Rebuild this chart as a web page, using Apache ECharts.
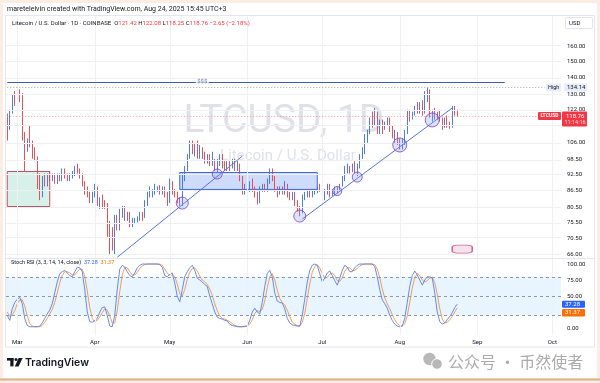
<!DOCTYPE html>
<html><head><meta charset="utf-8">
<script src="https://cdn.jsdelivr.net/npm/echarts@6/dist/echarts.min.js"></script>
<style>html,body{margin:0;padding:0;background:#fff;}#c{width:600px;height:383px;}</style>
</head><body><div id="c"></div>
<script>
// ---------- data ----------
const startDate = [2025, 1, 25];   // Feb 25 2025 (month 0-based)
const dayCount = 222;              // through Oct 4 2025
const monthNames = ['Jan','Feb','Mar','Apr','May','Jun','Jul','Aug','Sep','Oct','Nov','Dec'];

const opens = [119,113,121,128,126,130,129,108,104,106,
105,103,99,88,86,91,89,92,91,92,
90,92,91,94,92,91,92,93,95,94,
92,89,86,85,83,85,86,82,83,82,
81,72,71,68,77,74,79,80,77,78,
75,76,76.5,77,78,77,82,85,86,86.5,
87,87.5,86,87,85,83,89,86,85,83,
82,92,95,100,105,103,104,100,103,100,
98,100,97,98,95,98,99,97,95,97,
96,98,95,96,91,86,88,87,89,87,
85,83,87,88,87,90,94,91,87,86,
87,86,88,85,84,85,82,80,79,84,
85.5,86,85,86,86.5,87.5,87,85,86,88,
85,86,87,86.5,88.5,91,95,95.5,94.5,96,
94,96,100,103,108,111,117,116,120,112,
115,113,115,117,112,109,110,106,105,106,
111,121,118,120,123,121,125,121,130,132,
119,120,119,120,117,114,117,115,114,123,
121.42];
const highs = [120,122,130,132,131,133,131,111,108,114,
107,104,100,93,92,93,93,94,93,93,
93,93,95,95,93,93,94,96,97,95,
93,90,88,86,86,89,88,84,85,83,
82,76,74,78,78,80,81,81,79,79,
77,77,77.5,79,79,83,86,88,87,89,
88,88.5,88,88,86,91,90,87,86,84,
93,96,101,107,107,106,107,105,104,102,
101,101,102,99,99,101,101,98,98,98,
99,99,98,97,92,89,90,90,91,88,
86,88,89,89,91,95,95,92,88,88,
88,90,89,86,86,86,83,81,85,86,
87,87,86.5,87,88,89,88,87,89,89,
87,88,88,89,92,96,97,96,97,98,
97,101,104,110,112,118,121,123,121,117,
117,116,118,118,114,112,111,108,108,112,
122,122,121,124,126,126,127,132,134.14,133,
122,123,121,122,118,118,119,116,124,124,
122.08];
const lows = [107,112,120,124,124,126,107,94,102,104,
99,98,87,83,84,88,88,90,90,89,
89,90,90,91,90,90,91,92,93,91,
88,85,84,82,82,84,81,80,80,80,
71,66,67,66,73,73,77,76,76,74,
74,75,75.5,76,76,77,81,84,84,85,
86,85,85,84,81,82,85,84,82,81,
81,90,94,99,101,100,99,99,99,97,
97,96,96,94,93.5,96,95,94,94,94,
95,94,94,90,85,85,86,86,86,84,
81.5,82,86,86,86,89,90,86,84,85,
85,85,84,83,83,81,79,77.5,78.5,83,
84,84,84,85,85.5,86,84,83,85,84,
84.5,85,85.5,86,88,90,93,93,93.5,93,
92,95,99,101,106,110,113,114,110,110,
110,112,114,111,108,106,105,103,103,105,
110,116,117,119,120,120,119,120,126,118,
116,117,117,116,112,113,113,112.5,113,119,
118.25];
const closes = [113,121,128,126,130,129,108,104,106,105,
103,99,88,86,91,89,92,91,92,90,
92,91,94,92,91,92,93,95,94,92,
89,86,85,83,85,86,82,83,82,81,
72,71,68,77,74,79,80,77,78,75,
76,76.5,77,78,77,82,85,86,86.5,87,
87.5,86,87,85,83,89,86,85,83,82,
92,95,100,105,103,104,100,103,100,98,
100,97,98,95,98,99,97,95,97,96,
98,95,96,91,86,88,87,89,87,85,
83,87,88,87,90,94,91,87,86,87,
86,88,85,84,85,82,80,79,84,85.5,
86,85,86,86.5,87.5,87,85,86,88,85,
86,87,86.5,88.5,91,95,95.5,94.5,96,94,
96,100,103,108,111,117,116,120,112,115,
113,115,117,112,109,110,106,105,106,111,
121,118,120,123,121,125,121,130,132,119,
120,119,120,117,114,117,115,114,123,121.42,
118.76];
const stochK = [20,12,30,40,45,48,38,15,4,2,
2,2,2,3,8,15,22,28,38,55,
72,85,88,90,86,82,80,88,95,94,
88,60,25,10,9,12,15,25,32,33,
20,3,2,20,60,92,98,95,88,82,
80,86,94,98,100,100,100,100,100,100,
100,99,95,82,80,84,86,70,50,41,
60,80,88,94,98,90,78,75,72,68,
65,50,38,25,17,15,14,12,11,6,
4,3,2,2,2,3,3,12,25,31,
25,22,40,65,85,90,80,55,42,40,
39,30,15,8,5,4,3,3,20,45,
72,90,98,100,98,85,72,78,86,89,
82,74,67,78,90,98,95,88,88,94,
98,100,100,100,100,100,100,96,80,60,
44,38,31,20,12,6,3,2,3,15,
40,65,82,89,83,75,67,75,80,80,
78,55,25,10,6,8,13,18,24,32,
37.28];
const stochD = [25,18,21,27,38,44,44,34,19,7,
3,2,2,2,4,9,15,22,29,40,
55,71,82,88,88,86,83,83,88,92,
92,81,58,32,15,10,12,17,24,30,
28,19,8,8,27,57,83,95,94,88,
83,83,87,93,97,99,100,100,100,100,
100,100,98,92,86,82,83,80,69,54,
50,60,76,87,93,94,89,81,75,72,
68,61,51,38,27,19,15,14,12,10,
7,4,3,2,2,2,3,6,13,23,
27,26,29,42,63,80,85,75,59,46,
40,36,28,18,9,6,4,3,9,23,
46,69,87,96,99,94,85,78,79,84,
86,82,74,73,78,89,94,94,90,90,
93,97,99,100,100,100,100,99,92,79,
61,47,38,30,21,13,7,4,3,7,
19,40,62,79,85,82,75,72,74,78,
79,71,53,30,14,8,9,13,18,25,
31.37];

const priceLabelTicks = [160,150,140,130,122,106,98.5,92.5,86.5,80.5,75.5,70.5,66];
const priceGridTicks = [160,150,140,130,122,114,106,98.5,92.5,86.5,80.5,75.5,70.5,66];
const rsiLabelTicks = [0,50,75,100];
const rsiBands = [20,50,80];

const levelDollar = 137.3;
const levelHigh = 134.14;
const lastPrice = 118.76;
const lastK = 37.28, lastD = 31.37;
const trendLine1 = [[44, 65.1], [94, 100.1]];    // [day index, price]
const trendLine2 = [[118, 76.6], [178, 122.9]];
const boxTeal = [[0, 93.8], [17, 80.8]];
const boxBlue = [[69, 93.4], [124, 86.9]];
const touchDays = [70, 84, 117, 132, 140, 157, 170];
const touchPrices = [82.0, 92.8, 77.6, 86.3, 91.6, 105, 116.8];
const dollarLabelDay = 78, dollarLineEndDay = 199;
const eventDay = 182, eventPrice = 67.4;

// ---------- build ----------
const dates = [];
const t0 = Date.UTC(startDate[0], startDate[1], startDate[2]);
for (let i = 0; i < dayCount; i++) dates.push(new Date(t0 + i * 86400000).toISOString().slice(0, 10));
const monthStarts = dates.filter(s => s.endsWith('-01'));
const L = Math.log;
const candles = opens.map((o, i) => [L(o), L(closes[i]), L(lows[i]), L(highs[i])]);

const UP = '#3a6ce6', DOWN = '#e04046';
const FONT = 'Roboto';
const circleSizes = [12, 10, 12, 9, 10, 14, 14];

const chart = echarts.init(document.getElementById('c'), null, {width: 600, height: 383});
const gridLineStyle = {color: '#eef0f4', width: 1, type: 'solid'};

const option = {
  animation: false,
  backgroundColor: '#fbede3',
  grid: [
    {left: 6, right: 39, top: 15, height: 243},
    {left: 6, right: 39, top: 258, height: 77}
  ],
  xAxis: [
    {type: 'category', gridIndex: 0, data: dates, boundaryGap: true,
     axisLine: {show: false}, axisTick: {show: false}, axisLabel: {show: false}, splitLine: {show: false}},
    {type: 'category', gridIndex: 1, data: dates, boundaryGap: true,
     axisLine: {show: false}, axisTick: {show: false}, splitLine: {show: false},
     axisLabel: {show: true, interval: (i, v) => v.endsWith('-01'),
       formatter: v => v.endsWith('-01') ? monthNames[+v.slice(5, 7) - 1] : '',
       fontSize: 6, color: '#131722', margin: 4, fontFamily: FONT}}
  ],
  yAxis: [
    {type: 'value', gridIndex: 0, position: 'right', min: L(64.9), max: L(182.6),
     axisLine: {show: false}, axisTick: {show: false}, splitLine: {show: false},
     axisLabel: {customValues: priceLabelTicks.map(L), formatter: v => Math.exp(v).toFixed(2),
       fontSize: 6, color: '#131722', margin: 6, fontFamily: FONT}},
    {type: 'value', gridIndex: 1, position: 'right', min: -10.9, max: 109.4,
     axisLine: {show: false}, axisTick: {show: false}, splitLine: {show: false},
     axisLabel: {customValues: rsiLabelTicks, formatter: v => v.toFixed(2),
       fontSize: 6, color: '#131722', margin: 6, fontFamily: FONT}}
  ],
  series: [
    {type: 'line', xAxisIndex: 0, yAxisIndex: 0, data: [], z: 1, silent: true,
     markLine: {silent: true, symbol: ['none', 'none'], label: {show: false}, lineStyle: gridLineStyle,
       data: monthStarts.map(d => ({xAxis: d})).concat(priceGridTicks.map(v => ({yAxis: L(v)})))}},
    {type: 'candlestick', xAxisIndex: 0, yAxisIndex: 0, data: candles, barWidth: 1.3, z: 3,
     itemStyle: {color: UP, color0: DOWN, borderColor: UP, borderColor0: DOWN, borderWidth: 0.9},
     markArea: {silent: true, data: [
       [{xAxis: dates[boxTeal[0][0]], yAxis: L(boxTeal[0][1]),
         itemStyle: {color: 'rgba(60,180,150,0.2)', borderColor: '#c0505e', borderWidth: 1}},
        {xAxis: dates[boxTeal[1][0]], yAxis: L(boxTeal[1][1])}],
       [{xAxis: dates[boxBlue[0][0]], yAxis: L(boxBlue[0][1]),
         itemStyle: {color: 'rgba(60,110,240,0.25)', borderColor: '#3f66d6', borderWidth: 1}},
        {xAxis: dates[boxBlue[1][0]], yAxis: L(boxBlue[1][1])}]
     ]},
     markLine: {silent: true, symbol: ['none', 'none'], label: {show: false}, data: [
       [{coord: [dates[trendLine1[0][0]], L(trendLine1[0][1])], lineStyle: {color: '#5775cf', width: 1, type: 'solid'}},
        {coord: [dates[trendLine1[1][0]], L(trendLine1[1][1])]}],
       [{coord: [dates[trendLine2[0][0]], L(trendLine2[0][1])], lineStyle: {color: '#5775cf', width: 1, type: 'solid'}},
        {coord: [dates[trendLine2[1][0]], L(trendLine2[1][1])]}],
       [{coord: [dates[0], L(levelDollar)], lineStyle: {color: '#3f5ea6', width: 1, type: 'solid'}},
        {coord: [dates[dollarLineEndDay], L(levelDollar)]}],
       [{coord: [dates[0], L(levelHigh)], lineStyle: {color: '#a5a8b0', width: 1, type: [1, 2]}},
        {coord: [dates[215], L(levelHigh)]}],
       [{coord: [dates[0], L(lastPrice)], lineStyle: {color: '#f29aa2', width: 1, type: [1, 2]}},
        {coord: [dates[213], L(lastPrice)]}]
     ]}},
    {type: 'scatter', xAxisIndex: 0, yAxisIndex: 0, z: 5, silent: true,
     data: touchDays.map((d, i) => [dates[d], L(touchPrices[i])]),
     symbolSize: (v, p) => circleSizes[p.dataIndex],
     itemStyle: {color: 'rgba(120,160,255,0.35)', borderColor: '#8a3cb4', borderWidth: 1}},
    {type: 'scatter', xAxisIndex: 0, yAxisIndex: 0, z: 6, silent: true,
     data: [[dates[dollarLabelDay], L(levelDollar)]], symbol: 'rect', symbolSize: [13, 6],
     itemStyle: {color: '#ffffff'},
     label: {show: true, position: 'inside', formatter: '$$$', color: '#3f5ea6', fontSize: 6, fontFamily: FONT}},
    {type: 'scatter', xAxisIndex: 0, yAxisIndex: 0, z: 6, silent: true,
     data: [[dates[eventDay], L(eventPrice)]], symbol: 'roundRect', symbolSize: [20, 8],
     itemStyle: {color: '#f1dbe8', borderColor: '#c8407a', borderWidth: 1}},
    {type: 'line', xAxisIndex: 1, yAxisIndex: 1, data: [], z: 1, silent: true,
     markLine: {silent: true, symbol: ['none', 'none'], label: {show: false}, lineStyle: gridLineStyle,
       data: monthStarts.map(d => ({xAxis: d}))}},
    {type: 'line', xAxisIndex: 1, yAxisIndex: 1, data: stochK, showSymbol: false, z: 4,
     lineStyle: {color: '#4f7ff0', width: 0.9}, silent: true,
     markArea: {silent: true, itemStyle: {color: 'rgba(33,150,243,0.1)'},
       data: [[{yAxis: rsiBands[0]}, {yAxis: rsiBands[2]}]]},
     markLine: {silent: true, symbol: ['none', 'none'], label: {show: false},
       lineStyle: {color: '#9598a1', width: 1, type: [3, 3]},
       data: rsiBands.map(v => ({yAxis: v}))}},
    {type: 'line', xAxisIndex: 1, yAxisIndex: 1, data: stochD, showSymbol: false, z: 3,
     lineStyle: {color: '#f5913e', width: 0.9}, silent: true}
  ]
};
chart.setOption(option);

const py = v => chart.convertToPixel({yAxisIndex: 0}, L(v));
const ry = v => chart.convertToPixel({yAxisIndex: 1}, v);
const yH = py(levelHigh), yP = py(lastPrice), yK = ry(lastK);

function tag(x, y, w, h, fill, text, color, font) {
  return [
    {type: 'rect', shape: {x: x, y: y - h / 2, width: w, height: h, r: 1}, style: {fill: fill}, z: 50},
    {type: 'text', x: x + 3, y: y, style: {text: text, fill: color, font: font || ('6px ' + FONT), verticalAlign: 'middle'}, z: 51}
  ];
}

const g = [
  {type: 'rect', shape: {x: 3, y: 3, width: 594, height: 375}, style: {fill: '#ffffff'}, z: -5},
  {type: 'line', shape: {x1: 0, y1: 379.5, x2: 600, y2: 379.5}, style: {stroke: '#d8b48c', lineWidth: 2}, z: -4},
  {type: 'rect', shape: {x: 5.5, y: 15.5, width: 589, height: 331.5}, style: {fill: null, stroke: '#e3e6ec', lineWidth: 1}, z: 40},
  {type: 'line', shape: {x1: 6, y1: 258.5, x2: 595, y2: 258.5}, style: {stroke: '#e3e6ec', lineWidth: 1}, z: 40},
  // watermark
  {type: 'text', x: 284, y: 122, style: {text: 'LTCUSD, 1D', fill: '#dfe1e6', font: '39px ' + FONT, align: 'center', verticalAlign: 'middle'}, z: 0},
  {type: 'text', x: 288, y: 156, style: {text: 'Litecoin / U.S. Dollar', fill: '#dfe1e6', font: '15px ' + FONT, align: 'center', verticalAlign: 'middle'}, z: 0},
  // header
  {type: 'text', x: 7, y: 9, style: {text: 'maretelelvin created with TradingView.com, Aug 24, 2025 15:45 UTC+3', fill: '#131722', font: '7px ' + FONT, verticalAlign: 'middle'}, z: 50},
  {type: 'text', x: 12, y: 23, style: {
    text: '{k|Litecoin / U.S. Dollar · 1D · COINBASE}  {k|O}{r|121.42} {k|H}{r|122.08} {k|L}{r|118.25} {k|C}{r|118.76} {r|−2.65 (−2.18%)}',
    font: '6px ' + FONT, verticalAlign: 'middle',
    rich: {k: {fill: '#131722', font: '6px ' + FONT}, r: {fill: '#f23645', font: '6px ' + FONT}}}, z: 50},
  {type: 'rect', shape: {x: 565.5, y: 17.5, width: 27, height: 11, r: 1}, style: {fill: '#fff', stroke: '#e0e3eb'}, z: 50},
  {type: 'text', x: 569, y: 23, style: {text: 'USD', fill: '#131722', font: '6px ' + FONT, verticalAlign: 'middle'}, z: 51},
  // stoch label
  {type: 'text', x: 11, y: 263, style: {
    text: '{k|Stoch RSI (3, 3, 14, 14, close)}  {b|37.28}  {o|31.37}', font: '5.5px ' + FONT, verticalAlign: 'middle',
    rich: {k: {fill: '#131722', font: '5.5px ' + FONT}, b: {fill: '#2962ff', font: '5.5px ' + FONT}, o: {fill: '#ff6d00', font: '5.5px ' + FONT}}}, z: 50},
  // footer
  {type: 'rect', shape: {x: 7, y: 358, width: 6.5, height: 2.6}, style: {fill: '#131722'}, z: 50},
  {type: 'rect', shape: {x: 10.3, y: 358, width: 3.2, height: 8.4}, style: {fill: '#131722'}, z: 50},
  {type: 'circle', shape: {cx: 16, cy: 359.6, r: 1.5}, style: {fill: '#131722'}, z: 50},
  {type: 'polygon', shape: {points: [[18.6, 358], [22.6, 358], [18.6, 366.4], [14.8, 366.4]]}, style: {fill: '#131722'}, z: 50},
  {type: 'text', x: 25, y: 362.5, style: {text: 'TradingView', fill: '#131722', font: '600 10.5px Inter', verticalAlign: 'middle'}, z: 50},
  {type: 'circle', shape: {cx: 429.5, cy: 359, r: 6.2}, style: {fill: '#b8b8b8'}, z: 50},
  {type: 'circle', shape: {cx: 437, cy: 364, r: 5.3}, style: {fill: '#b8b8b8', stroke: '#fff', lineWidth: 1}, z: 51},
  {type: 'text', x: 448, y: 361.5, style: {text: '公众号 · 币然使者', fill: '#ababab', font: '16px "Noto Sans CJK SC"', verticalAlign: 'middle'}, z: 50},
  // High marker
  {type: 'rect', shape: {x: 546, y: yH - 4, width: 15, height: 8}, style: {fill: '#e6edf8'}, z: 50},
  {type: 'text', x: 548, y: yH, style: {text: 'High', fill: '#131722', font: '5.5px ' + FONT, verticalAlign: 'middle'}, z: 51},
  {type: 'rect', shape: {x: 564, y: yH - 4, width: 23, height: 8}, style: {fill: '#e6edf8'}, z: 50},
  {type: 'text', x: 567, y: yH, style: {text: levelHigh.toFixed(2), fill: '#131722', font: '6px ' + FONT, verticalAlign: 'middle'}, z: 51},
  // last price
  {type: 'rect', shape: {x: 538, y: yP - 4, width: 23, height: 8, r: 1}, style: {fill: '#f23645'}, z: 50},
  {type: 'text', x: 549.5, y: yP, style: {text: 'LTCUSD', fill: '#fff', font: 'bold 5px ' + FONT, align: 'center', verticalAlign: 'middle'}, z: 51},
  {type: 'rect', shape: {x: 562, y: yP - 4.5, width: 25, height: 15, r: 1}, style: {fill: '#f23645'}, z: 50},
  {type: 'text', x: 566, y: yP, style: {text: lastPrice.toFixed(2), fill: '#fff', font: '6px ' + FONT, verticalAlign: 'middle'}, z: 51},
  {type: 'text', x: 564.5, y: yP + 7, style: {text: '11:14:16', fill: '#ffd9dc', font: '5.5px ' + FONT, verticalAlign: 'middle'}, z: 51}
].concat(
  tag(562, yK, 23, 7, '#2962ff', lastK.toFixed(2), '#fff'),
  tag(562, yK + 8.5, 23, 7.5, '#ff6d00', lastD.toFixed(2), '#fff')
);
chart.setOption({graphic: {elements: g}});
</script>
</body></html>
